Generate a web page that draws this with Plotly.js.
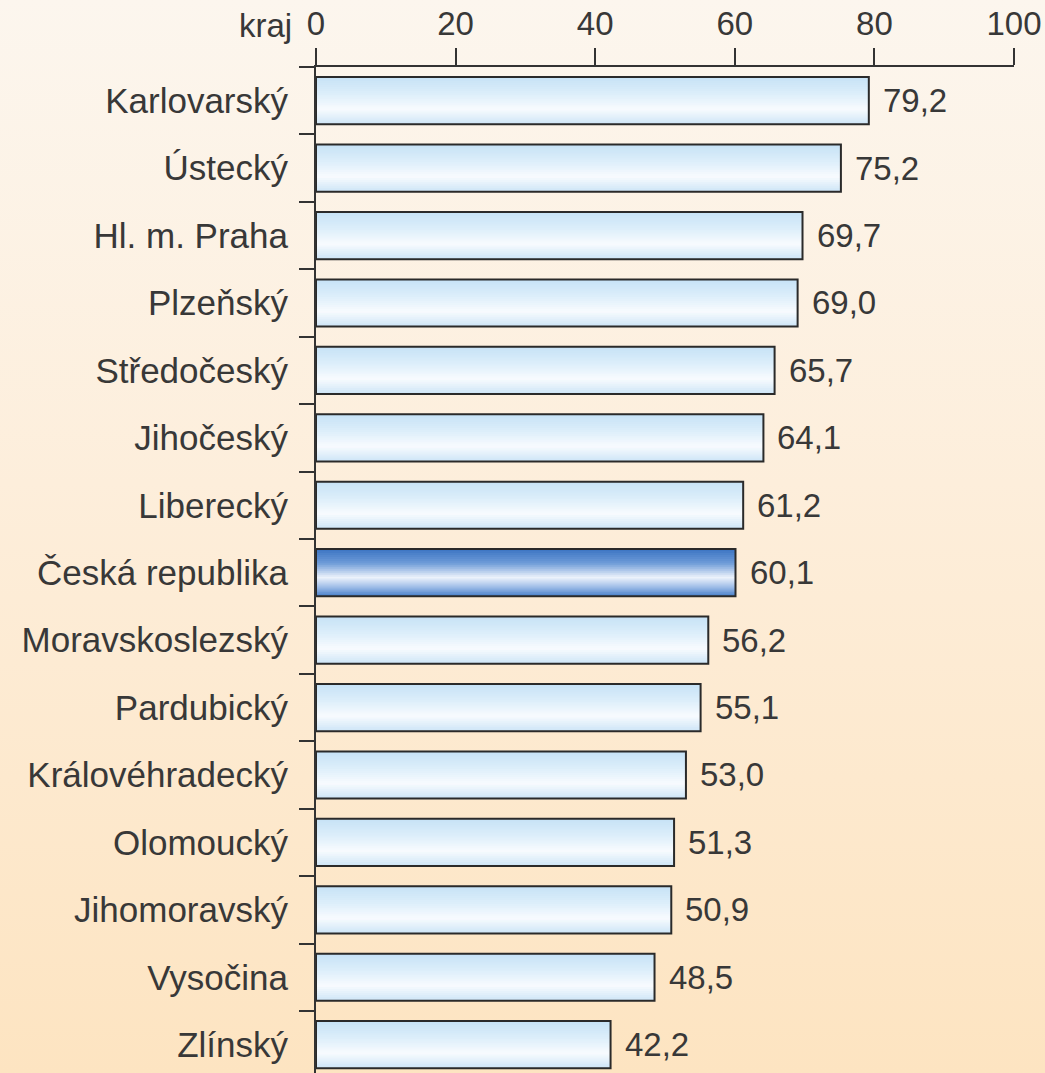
<!DOCTYPE html>
<html>
<head>
<meta charset="utf-8">
<script src="https://cdn.plot.ly/plotly-3.0.1.min.js"></script>
<style>
  html, body { margin: 0; padding: 0; }
  body { width: 1045px; height: 1073px; overflow: hidden;
         background: linear-gradient(to bottom, #fcf6ee 0%, #fdeedb 45%, #fde4c1 100%); }
  #chart { width: 1045px; height: 1073px; }
</style>
</head>
<body>
<div id="chart"></div>
<script>
// ---- data ----
const categories = [
  "Karlovarský", "Ústecký", "Hl. m. Praha", "Plzeňský", "Středočeský",
  "Jihočeský", "Liberecký", "Česká republika", "Moravskoslezský", "Pardubický",
  "Královéhradecký", "Olomoucký", "Jihomoravský", "Vysočina", "Zlínský"
];
const values = [79.2, 75.2, 69.7, 69.0, 65.7, 64.1, 61.2, 60.1, 56.2, 55.1, 53.0, 51.3, 50.9, 48.5, 42.2];
const highlighted = "Česká republika";
const xTicks = [0, 20, 40, 60, 80, 100];
const axisTitle = "kraj";

// ---- styling helpers ----
const lightStops = [[0, [198, 226, 246]], [0.35, [220, 238, 250]], [0.68, [248, 251, 254]], [1, [205, 229, 246]]];
const darkStops  = [[0, [60, 116, 194]], [0.3, [110, 155, 216]], [0.6, [238, 243, 251]], [0.8, [160, 190, 232]], [1, [72, 128, 202]]];
function ramp(stops, t) {
  for (let i = 1; i < stops.length; i++) {
    if (t <= stops[i][0]) {
      const a = stops[i - 1], b = stops[i];
      const f = (t - a[0]) / (b[0] - a[0]);
      const c = a[1].map((v, k) => Math.round(v + (b[1][k] - v) * f));
      return `rgb(${c[0]},${c[1]},${c[2]})`;
    }
  }
  const c = stops[stops.length - 1][1];
  return `rgb(${c[0]},${c[1]},${c[2]})`;
}

const BAR_W = 0.70;
const N = 24;
const stripW = BAR_W / N;
const traces = [];
for (let i = 0; i < N; i++) {
  const t = (i + 0.5) / N;
  const last = i === N - 1;
  traces.push({
    type: 'bar', orientation: 'h',
    x: values, y: categories,
    width: last ? stripW : stripW * 1.6,
    offset: -BAR_W / 2 + i * stripW,
    marker: {
      color: categories.map(c => c === highlighted ? ramp(darkStops, t) : ramp(lightStops, t)),
      line: { width: 0 }
    },
    hoverinfo: 'skip', showlegend: false
  });
}
traces.push({
  type: 'bar', orientation: 'h',
  x: values, y: categories,
  width: BAR_W, offset: -BAR_W / 2,
  marker: { color: 'rgba(0,0,0,0)', line: { color: '#2a2a2a', width: 2 } },
  hovertemplate: '%{y}: %{x}<extra></extra>', showlegend: false
});

const font = "Liberation Sans, Arial, Helvetica, sans-serif";
const textColor = '#383838';
const annotations = values.map((v, i) => ({
  x: v, y: categories[i], xref: 'x', yref: 'y',
  text: v.toFixed(1).replace('.', ','),
  xanchor: 'left', yanchor: 'middle', xshift: 12, showarrow: false,
  font: { family: font, size: 33, color: textColor }
}));
annotations.push({
  x: 0, y: 1, xref: 'paper', yref: 'paper', xanchor: 'right', yanchor: 'bottom',
  xshift: -22, yshift: 21, showarrow: false, text: axisTitle,
  font: { family: font, size: 33, color: textColor }
});

const layout = {
  width: 1045, height: 1073,
  margin: { l: 316, r: 31, t: 67, b: 0, pad: 0 },
  paper_bgcolor: 'rgba(0,0,0,0)', plot_bgcolor: 'rgba(0,0,0,0)',
  barmode: 'overlay',
  font: { family: font, color: textColor },
  xaxis: {
    side: 'top', range: [0, 100], autorange: false,
    tickvals: xTicks, ticktext: xTicks.map(String),
    ticks: 'outside', ticklen: 17, tickwidth: 2, tickcolor: '#333333',
    showline: true, linecolor: '#333333', linewidth: 2,
    showgrid: false, zeroline: false,
    tickfont: { family: font, size: 33, color: textColor },
    fixedrange: true
  },
  yaxis: {
    type: 'category', categoryorder: 'array', categoryarray: categories,
    range: [14.42, -0.5], autorange: false,
    tickson: 'boundaries', ticks: 'outside', ticklen: 15, tickwidth: 2, tickcolor: '#333333',
    showline: true, linecolor: '#333333', linewidth: 2,
    showgrid: false, zeroline: false,
    ticklabelstandoff: 19,
    tickfont: { family: font, size: 35, color: textColor },
    fixedrange: true
  },
  annotations: annotations
};

Plotly.newPlot('chart', traces, layout, { displayModeBar: false, staticPlot: true });
</script>
</body>
</html>
